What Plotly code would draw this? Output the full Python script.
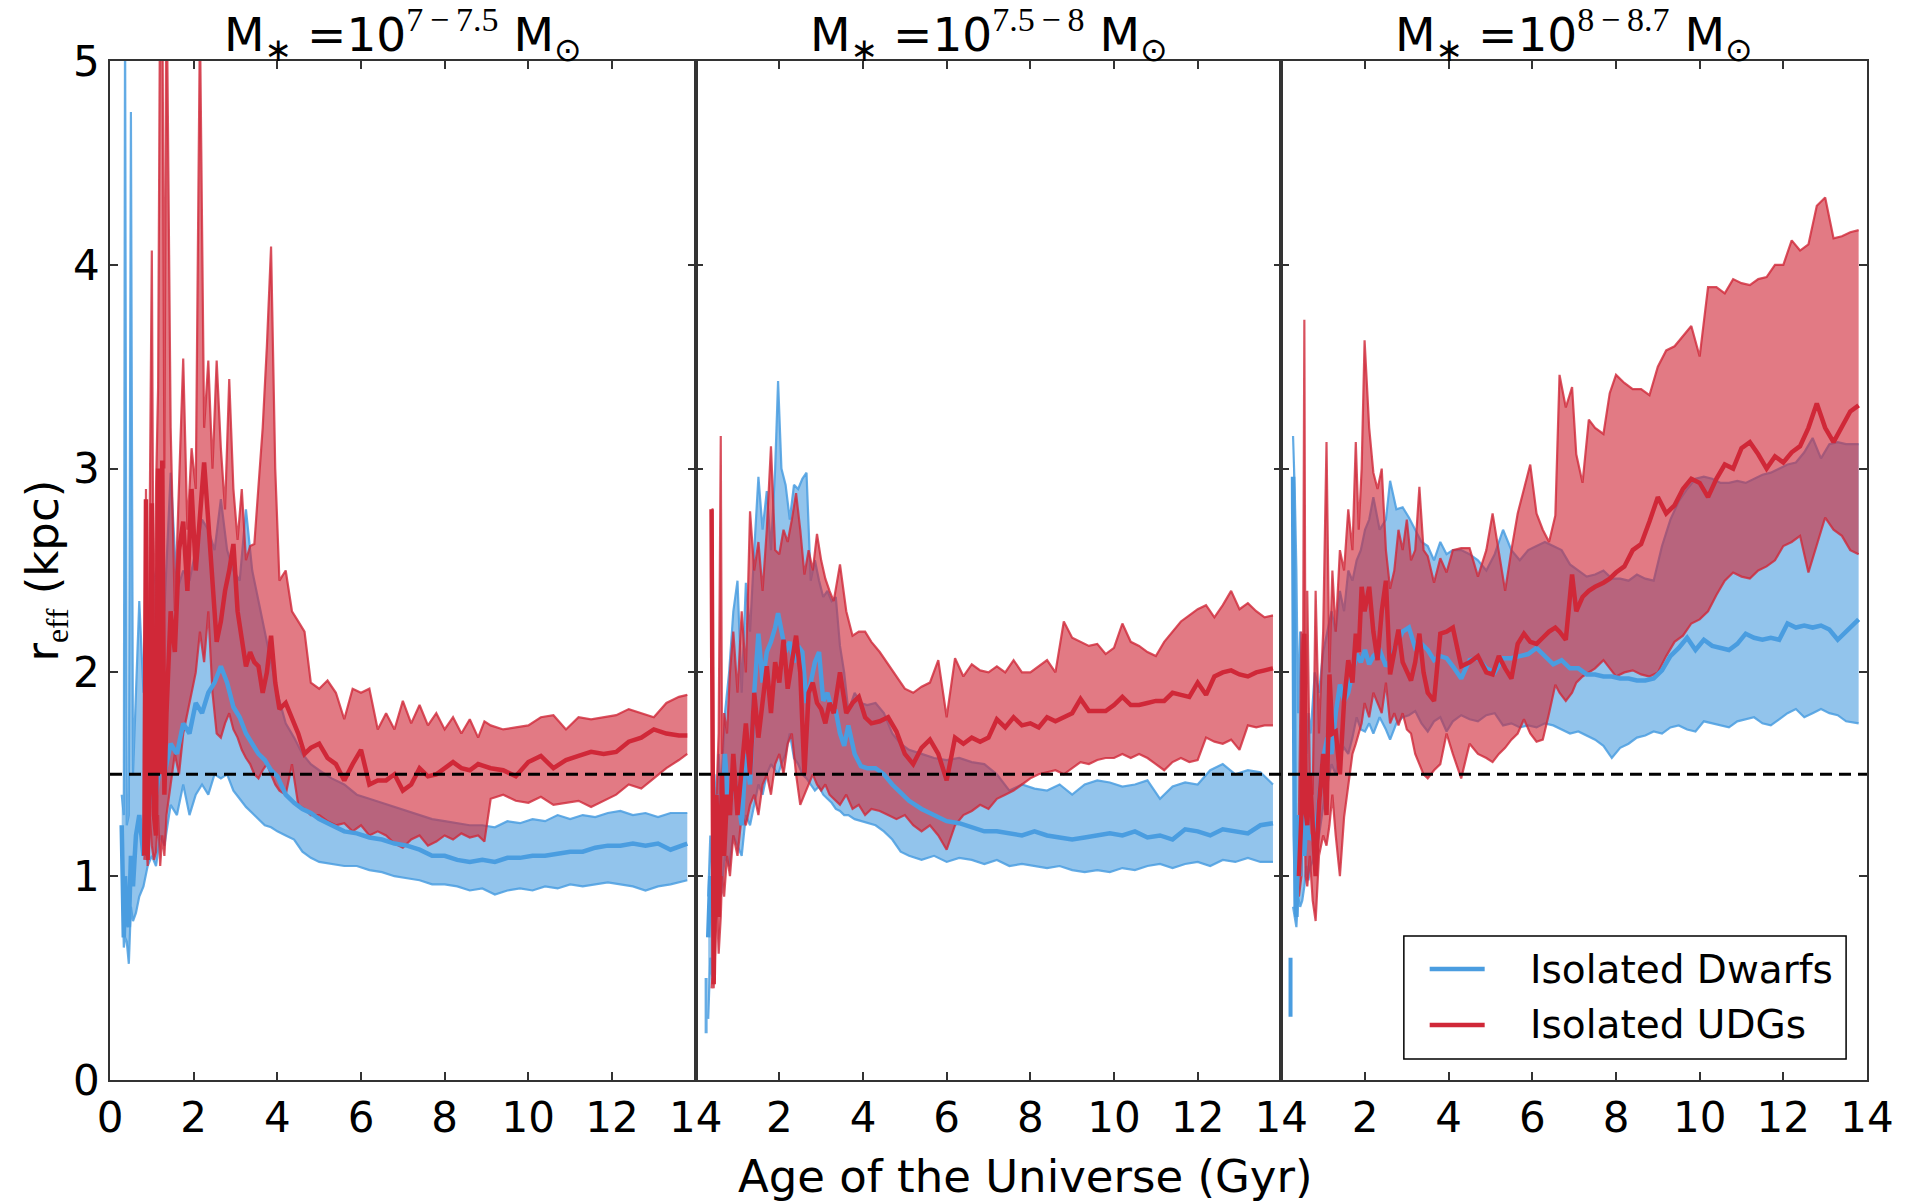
import plotly.graph_objects as go
from plotly.subplots import make_subplots

# ---------------- Panel 1: M* = 10^(7-7.5) ----------------
p1_blue_t = [0.28, 0.33, 0.36, 0.40, 0.45, 0.50, 0.55, 0.62, 0.70, 0.80,
             0.90, 1.00, 1.10, 1.20, 1.30, 1.45, 1.60, 1.75, 1.90, 2.05,
             2.20, 2.35, 2.50, 2.65, 2.80, 2.95, 3.10, 3.25, 3.40, 3.55,
             3.70, 3.85, 4.00, 4.20, 4.40, 4.60, 4.80, 5.00, 5.30, 5.60,
             5.90, 6.20, 6.50, 6.80, 7.10, 7.40, 7.70, 8.00, 8.30, 8.60,
             8.90, 9.20, 9.50, 9.80, 10.10, 10.40, 10.70, 11.00, 11.30, 11.60,
             11.90, 12.20, 12.50, 12.80, 13.10, 13.40, 13.80]
p1_blue_hi = [1.40, 1.30, 5.30, 1.25, 1.30, 4.75, 1.50, 1.90, 2.35, 1.90,
              2.20, 2.40, 2.50, 2.60, 2.30, 2.98, 2.40, 2.50, 2.45, 2.60,
              2.75, 2.70, 2.60, 2.85, 2.60, 2.50, 2.45, 2.80, 2.50, 2.35,
              2.20, 2.05, 1.90, 1.75, 1.68, 1.60, 1.55, 1.52, 1.48, 1.45,
              1.40, 1.38, 1.36, 1.34, 1.32, 1.30, 1.28, 1.27, 1.26, 1.25,
              1.25, 1.24, 1.27, 1.26, 1.28, 1.27, 1.30, 1.28, 1.30, 1.29,
              1.31, 1.32, 1.30, 1.31, 1.29, 1.31, 1.31]
p1_blue_med = [1.25, 0.70, 1.00, 0.80, 0.75, 1.10, 0.95, 1.20, 1.30, 1.10,
               1.30, 1.45, 1.40, 1.55, 1.50, 1.65, 1.60, 1.75, 1.70, 1.85,
               1.80, 1.90, 1.95, 2.03, 1.95, 1.83, 1.78, 1.70, 1.65, 1.60,
               1.57, 1.52, 1.49, 1.40, 1.36, 1.33, 1.31, 1.28, 1.25, 1.22,
               1.21, 1.19, 1.18, 1.16, 1.15, 1.13, 1.10, 1.10, 1.08, 1.07,
               1.08, 1.07, 1.09, 1.09, 1.10, 1.10, 1.11, 1.12, 1.12, 1.14,
               1.15, 1.15, 1.16, 1.15, 1.16, 1.13, 1.16]
p1_blue_lo = [1.15, 0.65, 0.70, 0.68, 0.57, 0.85, 0.78, 0.82, 0.90, 0.95,
              1.05, 1.10, 1.05, 1.20, 1.15, 1.35, 1.30, 1.45, 1.30, 1.40,
              1.45, 1.40, 1.50, 1.48, 1.50, 1.42, 1.38, 1.34, 1.31, 1.28,
              1.25, 1.24, 1.22, 1.20, 1.18, 1.12, 1.09, 1.07, 1.06, 1.05,
              1.05, 1.03, 1.02, 1.00, 0.99, 0.98, 0.96, 0.96, 0.95, 0.93,
              0.94, 0.91, 0.93, 0.94, 0.93, 0.95, 0.94, 0.96, 0.95, 0.96,
              0.97, 0.96, 0.95, 0.93, 0.95, 0.96, 0.98]

p1_red_t = [0.82, 0.86, 0.90, 0.95, 1.00, 1.05, 1.10, 1.15, 1.20, 1.25,
            1.30, 1.35, 1.45, 1.55, 1.65, 1.75, 1.85, 1.95, 2.05, 2.15,
            2.25, 2.35, 2.45, 2.55, 2.65, 2.75, 2.85, 2.95, 3.05, 3.15,
            3.25, 3.35, 3.45, 3.55, 3.65, 3.75, 3.85, 3.95, 4.05, 4.20,
            4.35, 4.50, 4.65, 4.80, 5.00, 5.20, 5.40, 5.60, 5.80, 6.00,
            6.20, 6.40, 6.60, 6.80, 7.00, 7.20, 7.40, 7.60, 7.80, 8.00,
            8.20, 8.40, 8.60, 8.80, 8.95, 9.10, 9.40, 9.70, 10.00, 10.30,
            10.60, 10.90, 11.20, 11.50, 11.80, 12.10, 12.40, 12.70, 13.00, 13.30,
            13.60, 13.80]
p1_red_hi = [1.20, 2.90, 1.50, 3.00, 4.07, 1.80, 2.90, 3.40, 5.50, 5.50,
             3.00, 5.50, 3.20, 2.30, 2.90, 3.54, 2.70, 3.10, 2.90, 5.20,
             3.20, 3.53, 3.00, 3.53, 3.10, 2.80, 3.44, 2.90, 2.65, 2.90,
             2.55, 2.62, 2.63, 2.90, 3.20, 3.60, 4.09, 3.00, 2.45, 2.50,
             2.30, 2.25, 2.20, 1.95, 1.92, 1.96, 1.90, 1.77, 1.92, 1.90,
             1.92, 1.72, 1.80, 1.72, 1.86, 1.75, 1.84, 1.74, 1.80, 1.72,
             1.78, 1.70, 1.77, 1.68, 1.76, 1.74, 1.72, 1.73, 1.74, 1.78,
             1.79, 1.72, 1.78, 1.77, 1.78, 1.79, 1.82, 1.80, 1.78, 1.85,
             1.88, 1.89]
p1_red_med = [1.10, 2.85, 1.08, 1.50, 2.83, 1.30, 1.20, 3.00, 1.50, 3.04,
              1.40, 1.80, 2.30, 2.10, 2.60, 2.74, 2.40, 2.90, 2.50, 2.75,
              3.03, 2.74, 2.40, 2.15, 2.25, 2.40, 2.50, 2.63, 2.30, 2.15,
              2.03, 2.10, 2.05, 2.03, 1.90, 2.00, 2.18, 1.95, 1.82, 1.85,
              1.78, 1.70, 1.60, 1.63, 1.65, 1.58, 1.55, 1.47, 1.55, 1.62,
              1.45, 1.47, 1.47, 1.50, 1.42, 1.45, 1.53, 1.49, 1.50, 1.53,
              1.56, 1.53, 1.52, 1.55, 1.54, 1.53, 1.52, 1.49, 1.56, 1.59,
              1.53, 1.57, 1.59, 1.61, 1.60, 1.61, 1.66, 1.68, 1.72, 1.70,
              1.69, 1.69]
p1_red_lo = [1.08, 1.20, 1.05, 1.30, 1.15, 1.08, 1.12, 1.30, 1.05, 1.20,
             1.10, 1.30, 1.45, 1.60, 1.50, 1.70, 1.80, 1.90, 2.00, 2.20,
             2.05, 2.30, 1.90, 1.70, 1.68, 1.75, 1.80, 1.72, 1.68, 1.62,
             1.58, 1.55, 1.50, 1.48, 1.52, 1.55, 1.50, 1.45, 1.42, 1.40,
             1.55, 1.35, 1.33, 1.30, 1.30, 1.27, 1.25, 1.26, 1.22, 1.25,
             1.20, 1.22, 1.20, 1.16, 1.14, 1.18, 1.20, 1.15, 1.17, 1.20,
             1.18, 1.21, 1.19, 1.20, 1.17, 1.38, 1.40, 1.37, 1.36, 1.39,
             1.35, 1.36, 1.37, 1.34, 1.37, 1.40, 1.45, 1.43, 1.48, 1.53,
             1.57, 1.60]

# ---------------- Panel 2: M* = 10^(7.5-8) ----------------
p2_blue_t = [0.30, 0.35, 0.40, 0.45, 0.50, 0.55, 0.60, 0.70, 0.80, 0.90,
             1.00, 1.10, 1.20, 1.30, 1.40, 1.50, 1.60, 1.70, 1.80, 1.90,
             1.97, 2.05, 2.15, 2.25, 2.35, 2.45, 2.55, 2.65, 2.75, 2.85,
             2.95, 3.05, 3.15, 3.25, 3.35, 3.45, 3.55, 3.65, 3.80, 3.95,
             4.10, 4.30, 4.50, 4.70, 4.90, 5.10, 5.40, 5.70, 6.00, 6.30,
             6.60, 6.90, 7.20, 7.50, 7.80, 8.10, 8.40, 8.70, 9.00, 9.30,
             9.60, 9.90, 10.20, 10.50, 10.80, 11.10, 11.40, 11.70, 12.00, 12.30,
             12.60, 12.90, 13.20, 13.50, 13.80]
p2_blue_hi = [0.90, 1.20, 1.00, 1.50, 1.30, 1.60, 1.40, 1.80, 2.00, 2.30,
              2.45, 1.90, 2.44, 2.20, 2.60, 2.96, 2.70, 2.89, 2.60, 3.00,
              3.43, 3.00, 2.92, 2.75, 2.92, 2.90, 2.95, 2.98, 2.45, 2.55,
              2.45, 2.37, 2.40, 2.35, 2.37, 2.13, 2.00, 1.81, 1.90, 1.85,
              1.84, 1.85, 1.80, 1.70, 1.65, 1.62, 1.60, 1.58, 1.57, 1.58,
              1.56, 1.55, 1.50, 1.42, 1.45, 1.43, 1.42, 1.45, 1.40, 1.45,
              1.47, 1.46, 1.44, 1.45, 1.47, 1.38, 1.44, 1.46, 1.45, 1.52,
              1.55, 1.50, 1.52, 1.51, 1.45]
p2_blue_med = [0.70, 1.00, 0.80, 1.20, 1.05, 1.40, 1.10, 1.60, 1.30, 1.50,
               1.40, 1.25, 1.60, 1.45, 1.90, 2.19, 1.95, 2.10, 2.15, 2.22,
               2.29, 2.20, 2.10, 2.15, 2.05, 2.13, 2.10, 1.85, 1.95, 2.05,
               2.10, 1.86, 1.90, 1.82, 1.81, 1.70, 1.64, 1.74, 1.60, 1.54,
               1.53, 1.53, 1.50, 1.45, 1.41, 1.37, 1.33, 1.30, 1.27, 1.26,
               1.24, 1.22, 1.22, 1.21, 1.20, 1.22, 1.20, 1.19, 1.18, 1.19,
               1.20, 1.21, 1.20, 1.22, 1.19, 1.20, 1.18, 1.23, 1.22, 1.20,
               1.23, 1.22, 1.21, 1.25, 1.26]
p2_blue_lo = [0.30, 0.60, 0.50, 0.75, 0.80, 1.00, 0.90, 1.10, 1.05, 1.20,
              1.15, 1.10, 1.30, 1.25, 1.35, 1.45, 1.40, 1.50, 1.55, 1.52,
              1.50, 1.55, 1.60, 1.70, 1.58, 1.55, 1.50, 1.48, 1.45, 1.42,
              1.44, 1.40, 1.38, 1.36, 1.33, 1.32, 1.30, 1.30, 1.28, 1.27,
              1.26, 1.25, 1.22, 1.18, 1.12, 1.10, 1.08, 1.10, 1.07, 1.09,
              1.08, 1.06, 1.08, 1.05, 1.06, 1.05, 1.04, 1.05, 1.03, 1.02,
              1.03, 1.02, 1.04, 1.03, 1.05, 1.06, 1.04, 1.06, 1.07, 1.05,
              1.08, 1.07, 1.09, 1.07, 1.07]

p2_red_t = [0.38, 0.40, 0.43, 0.46, 0.50, 0.55, 0.60, 0.63, 0.68, 0.75,
            0.82, 0.90, 1.00, 1.10, 1.20, 1.30, 1.40, 1.50, 1.60, 1.70,
            1.80, 1.90, 2.00, 2.10, 2.20, 2.30, 2.40, 2.50, 2.60, 2.70,
            2.80, 2.90, 3.00, 3.10, 3.20, 3.30, 3.45, 3.60, 3.75, 3.90,
            4.05, 4.20, 4.40, 4.60, 4.80, 5.00, 5.20, 5.40, 5.60, 5.80,
            6.00, 6.20, 6.40, 6.60, 6.80, 7.00, 7.20, 7.40, 7.60, 7.80,
            8.00, 8.20, 8.40, 8.60, 8.80, 9.00, 9.20, 9.40, 9.60, 9.80,
            10.00, 10.20, 10.40, 10.60, 10.80, 11.00, 11.20, 11.40, 11.60, 11.80,
            12.00, 12.20, 12.40, 12.60, 12.80, 13.00, 13.20, 13.40, 13.60, 13.80]
p2_red_hi = [2.80, 2.80, 1.00, 1.20, 1.40, 1.70, 3.16, 1.60, 1.80, 1.70,
             2.00, 2.20, 1.90, 2.30, 2.00, 2.79, 2.50, 2.64, 2.40, 2.70,
             3.11, 2.60, 2.58, 2.70, 2.64, 2.75, 2.88, 2.70, 2.48, 2.60,
             2.50, 2.68, 2.55, 2.46, 2.40, 2.35, 2.53, 2.30, 2.18, 2.20,
             2.20, 2.15, 2.10, 2.04, 1.98, 1.92, 1.90, 1.93, 1.95, 2.06,
             1.78, 2.07, 1.98, 2.04, 2.01, 2.00, 2.03, 2.00, 2.06, 2.00,
             2.00, 2.03, 2.06, 2.00, 2.25, 2.17, 2.15, 2.13, 2.14, 2.09,
             2.12, 2.24, 2.15, 2.13, 2.10, 2.08, 2.15, 2.20, 2.25, 2.28,
             2.31, 2.33, 2.27, 2.33, 2.40, 2.31, 2.34, 2.30, 2.27, 2.28]
p2_red_med = [2.80, 1.50, 0.47, 0.90, 1.40, 0.80, 1.20, 1.50, 1.10, 1.40,
              1.30, 1.60, 1.30, 1.50, 1.75, 1.50, 1.90, 1.68, 1.85, 2.03,
              1.80, 2.05, 1.95, 2.16, 1.92, 2.05, 2.18, 2.00, 1.50, 1.90,
              1.95, 1.85, 1.82, 1.75, 1.85, 1.80, 2.00, 1.80, 1.85, 1.88,
              1.78, 1.75, 1.76, 1.78, 1.71, 1.60, 1.55, 1.63, 1.67, 1.60,
              1.47, 1.68, 1.65, 1.68, 1.66, 1.68, 1.77, 1.73, 1.78, 1.74,
              1.75, 1.73, 1.78, 1.76, 1.78, 1.80, 1.87, 1.81, 1.81, 1.81,
              1.84, 1.88, 1.84, 1.84, 1.85, 1.86, 1.86, 1.90, 1.89, 1.88,
              1.95, 1.89, 1.98, 2.00, 2.01, 1.99, 1.98, 2.00, 2.01, 2.02]
p2_red_lo = [0.45, 0.50, 0.45, 0.60, 0.90, 0.62, 0.80, 1.00, 0.90, 1.10,
             1.00, 1.20, 1.10, 1.30, 1.25, 1.35, 1.40, 1.30, 1.45, 1.50,
             1.40, 1.55, 1.60, 1.50, 1.65, 1.70, 1.50, 1.35, 1.40, 1.45,
             1.50, 1.45, 1.42, 1.45, 1.40, 1.38, 1.35, 1.40, 1.33, 1.35,
             1.30, 1.33, 1.32, 1.30, 1.28, 1.30, 1.25, 1.22, 1.25, 1.20,
             1.13, 1.25, 1.30, 1.32, 1.35, 1.33, 1.38, 1.40, 1.42, 1.45,
             1.48, 1.50, 1.51, 1.52, 1.50, 1.53, 1.56, 1.55, 1.57, 1.58,
             1.58, 1.60, 1.58, 1.60, 1.58, 1.55, 1.52, 1.56, 1.58, 1.56,
             1.57, 1.68, 1.66, 1.65, 1.67, 1.62, 1.74, 1.73, 1.74, 1.74]

# ---------------- Panel 3: M* = 10^(8-8.7) ----------------
p3_blue_t = [0.28, 0.32, 0.36, 0.40, 0.45, 0.50, 0.55, 0.60, 0.65, 0.70,
             0.80, 0.90, 1.00, 1.10, 1.20, 1.30, 1.40, 1.50, 1.60, 1.70,
             1.80, 1.90, 2.00, 2.10, 2.20, 2.35, 2.50, 2.60, 2.75, 2.90,
             3.05, 3.20, 3.35, 3.50, 3.65, 3.80, 3.95, 4.10, 4.30, 4.50,
             4.70, 4.90, 5.10, 5.30, 5.50, 5.70, 5.90, 6.10, 6.30, 6.50,
             6.70, 6.90, 7.10, 7.30, 7.50, 7.70, 7.90, 8.10, 8.30, 8.50,
             8.70, 8.90, 9.10, 9.30, 9.50, 9.70, 9.90, 10.10, 10.30, 10.50,
             10.70, 10.90, 11.10, 11.30, 11.50, 11.70, 11.90, 12.10, 12.30, 12.50,
             12.70, 12.90, 13.10, 13.30, 13.50, 13.80]
p3_blue_hi = [3.16, 2.90, 2.50, 1.80, 2.20, 1.70, 1.90, 1.60, 1.80, 1.70,
              2.00, 1.90, 2.10, 2.20, 2.30, 2.20, 2.40, 2.30, 2.50, 2.45,
              2.55, 2.60, 2.70, 2.75, 2.86, 2.70, 2.75, 2.94, 2.80, 2.81,
              2.76, 2.70, 2.64, 2.62, 2.55, 2.64, 2.58, 2.60, 2.60, 2.58,
              2.55, 2.50, 2.58, 2.70, 2.60, 2.55, 2.60, 2.62, 2.64, 2.62,
              2.60, 2.53, 2.50, 2.47, 2.48, 2.50, 2.46, 2.46, 2.45, 2.48,
              2.46, 2.45, 2.62, 2.75, 2.84, 2.90, 2.95, 2.96, 2.95, 2.93,
              2.93, 2.94, 2.93, 2.95, 2.97, 2.98, 3.00, 3.02, 3.03, 3.08,
              3.15, 3.05, 3.12, 3.13, 3.12, 3.12]
p3_blue_med = [2.96, 1.20, 0.80, 1.30, 1.00, 1.45, 1.10, 1.30, 1.18, 1.20,
               1.16, 1.40, 1.58, 1.68, 1.60, 1.80, 1.94, 1.86, 1.90, 2.00,
               2.09, 2.05, 2.11, 2.04, 2.08, 2.11, 2.03, 2.06, 2.14, 2.20,
               2.22, 2.12, 2.14, 2.11, 2.06, 2.08, 2.07, 2.03, 1.97, 2.06,
               2.07, 2.02, 2.00, 2.07, 2.07, 2.08, 2.09, 2.12, 2.08, 2.04,
               2.06, 2.02, 2.02, 1.99, 1.99, 1.98, 1.98, 1.97, 1.97, 1.96,
               1.96, 1.97, 2.01, 2.08, 2.12, 2.17, 2.11, 2.16, 2.13, 2.12,
               2.11, 2.14, 2.19, 2.17, 2.16, 2.17, 2.16, 2.24, 2.22, 2.23,
               2.22, 2.23, 2.21, 2.16, 2.20, 2.26]
p3_blue_lo = [0.85, 0.80, 0.75, 0.90, 0.85, 0.88, 0.95, 1.05, 0.98, 1.05,
              1.10, 1.20, 1.34, 1.45, 1.55, 1.50, 1.60, 1.63, 1.60, 1.68,
              1.78, 1.72, 1.71, 1.75, 1.70, 1.78, 1.72, 1.67, 1.75, 1.78,
              1.79, 1.81, 1.75, 1.71, 1.76, 1.78, 1.71, 1.76, 1.79, 1.77,
              1.76, 1.79, 1.80, 1.74, 1.75, 1.73, 1.74, 1.73, 1.75, 1.74,
              1.72, 1.70, 1.71, 1.69, 1.67, 1.64, 1.58, 1.63, 1.65, 1.68,
              1.69, 1.71, 1.70, 1.73, 1.74, 1.72, 1.71, 1.76, 1.75, 1.74,
              1.73, 1.76, 1.77, 1.78, 1.75, 1.74, 1.77, 1.80, 1.82, 1.78,
              1.80, 1.82, 1.80, 1.79, 1.76, 1.75]

p3_red_t = [0.42, 0.48, 0.52, 0.55, 0.58, 0.62, 0.68, 0.75, 0.82, 0.90,
            1.00, 1.08, 1.15, 1.22, 1.30, 1.40, 1.50, 1.60, 1.70, 1.78,
            1.85, 1.92, 1.99, 2.10, 2.20, 2.30, 2.40, 2.50, 2.60, 2.70,
            2.80, 2.90, 3.00, 3.10, 3.20, 3.30, 3.40, 3.50, 3.65, 3.80,
            3.95, 4.10, 4.30, 4.50, 4.70, 4.90, 5.05, 5.20, 5.35, 5.50,
            5.65, 5.80, 5.95, 6.10, 6.25, 6.40, 6.55, 6.65, 6.80, 6.95,
            7.05, 7.20, 7.35, 7.50, 7.70, 7.85, 8.00, 8.20, 8.40, 8.60,
            8.80, 9.00, 9.20, 9.40, 9.60, 9.80, 10.00, 10.20, 10.40, 10.60,
            10.80, 11.00, 11.20, 11.40, 11.60, 11.80, 12.00, 12.20, 12.40, 12.60,
            12.80, 13.00, 13.20, 13.40, 13.60, 13.80]
p3_red_hi = [1.30, 2.20, 2.05, 3.73, 1.60, 2.40, 1.50, 1.40, 2.40, 1.70,
             2.20, 3.13, 2.00, 2.50, 2.20, 2.60, 2.50, 2.80, 2.60, 3.13,
             2.70, 3.00, 3.63, 3.20, 2.98, 2.90, 3.00, 2.60, 2.41, 2.50,
             2.70, 2.60, 2.75, 2.55, 2.60, 2.91, 2.60, 2.57, 2.44, 2.56,
             2.49, 2.60, 2.61, 2.61, 2.47, 2.60, 2.78, 2.60, 2.40, 2.60,
             2.78, 2.90, 3.02, 2.78, 2.70, 2.64, 2.77, 3.46, 3.30, 3.40,
             3.07, 2.93, 3.24, 3.20, 3.17, 3.37, 3.46, 3.42, 3.39, 3.39,
             3.36, 3.50, 3.58, 3.60, 3.65, 3.70, 3.55, 3.89, 3.89, 3.86,
             3.93, 3.91, 3.90, 3.93, 3.94, 4.00, 4.00, 4.12, 4.07, 4.10,
             4.29, 4.33, 4.13, 4.14, 4.16, 4.17]
p3_red_med = [1.00, 1.30, 2.00, 2.19, 1.32, 1.25, 1.50, 1.26, 1.00, 1.35,
              1.60, 1.30, 1.99, 1.70, 1.71, 1.50, 1.86, 2.06, 1.95, 2.19,
              2.10, 2.42, 2.30, 2.42, 2.20, 2.06, 2.30, 2.45, 1.99, 2.10,
              2.21, 2.05, 2.00, 1.96, 2.05, 2.19, 2.00, 1.90, 1.86, 2.19,
              2.20, 2.22, 2.03, 2.05, 2.08, 2.00, 1.99, 2.08, 2.02, 1.97,
              2.14, 2.19, 2.15, 2.14, 2.17, 2.20, 2.22, 2.20, 2.16, 2.48,
              2.30, 2.37, 2.40, 2.42, 2.44, 2.46, 2.49, 2.52, 2.60, 2.63,
              2.74, 2.86, 2.78, 2.82, 2.90, 2.95, 2.93, 2.86, 2.95, 3.02,
              3.00, 3.10, 3.13, 3.07, 3.00, 3.06, 3.03, 3.08, 3.11, 3.20,
              3.32, 3.20, 3.13, 3.20, 3.28, 3.31]
p3_red_lo = [0.90, 1.00, 1.30, 1.50, 1.00, 0.95, 1.10, 0.88, 0.78, 1.10,
             1.20, 1.15, 1.25, 1.40, 1.20, 1.00, 1.29, 1.45, 1.60, 1.65,
             1.70, 1.75, 1.85, 1.78, 1.90, 1.85, 1.80, 1.95, 1.75, 1.80,
             1.74, 1.80, 1.72, 1.70, 1.60, 1.55, 1.50, 1.48, 1.52, 1.55,
             1.70, 1.60, 1.48, 1.65, 1.60, 1.58, 1.56, 1.60, 1.63, 1.67,
             1.70, 1.77, 1.70, 1.66, 1.67, 1.80, 1.94, 1.90, 1.86, 1.90,
             1.95, 1.98, 2.00, 2.02, 2.06, 2.02, 1.98, 2.00, 2.01, 1.99,
             1.98, 2.00, 2.08, 2.15, 2.18, 2.24, 2.26, 2.30, 2.38, 2.45,
             2.49, 2.47, 2.46, 2.50, 2.52, 2.55, 2.62, 2.64, 2.67, 2.49,
             2.62, 2.76, 2.70, 2.67, 2.60, 2.58]

# isolated early snapshots (single-time vertical segments)
p2_blue_seg_t = [0.25, 0.25]
p2_blue_seg_r = [0.23, 0.50]
p3_blue_seg_t = [0.22, 0.22]
p3_blue_seg_r = [0.31, 0.60]

panel_titles = ["7\u2009\u2212\u20097.5", "7.5\u2009\u2212\u20098", "8\u2009\u2212\u20098.7"]
x_tick_vals = [0, 2, 4, 6, 8, 10, 12, 14]
y_tick_vals = [0, 1, 2, 3, 4, 5]
reference_radius = 1.5

series_names = ["Isolated Dwarfs", "Isolated UDGs"]

BLUE = "rgb(74,157,224)"
BLUE_FILL = "rgba(74,157,224,0.6)"
BLUE_EDGE = "rgba(74,157,224,0.85)"
RED = "rgb(208,40,56)"
RED_FILL = "rgba(208,40,56,0.62)"
RED_EDGE = "rgba(208,40,56,0.8)"
FONT = "DejaVu Sans"
SERIF = "Liberation Serif"

panels = [
    (p1_blue_t, p1_blue_lo, p1_blue_med, p1_blue_hi, p1_red_t, p1_red_lo, p1_red_med, p1_red_hi),
    (p2_blue_t, p2_blue_lo, p2_blue_med, p2_blue_hi, p2_red_t, p2_red_lo, p2_red_med, p2_red_hi),
    (p3_blue_t, p3_blue_lo, p3_blue_med, p3_blue_hi, p3_red_t, p3_red_lo, p3_red_med, p3_red_hi),
]

fig = make_subplots(rows=1, cols=3, shared_yaxes=True, horizontal_spacing=0)

for i, (bt, blo, bmed, bhi, rt, rlo, rmed, rhi) in enumerate(panels, start=1):
    fig.add_trace(go.Scatter(x=bt, y=blo, mode="lines", line=dict(color=BLUE_EDGE, width=2.2),
                             showlegend=False, hoverinfo="skip"), row=1, col=i)
    fig.add_trace(go.Scatter(x=bt, y=bhi, mode="lines", fill="tonexty", fillcolor=BLUE_FILL,
                             line=dict(color=BLUE_EDGE, width=2.2), showlegend=False,
                             hoverinfo="skip"), row=1, col=i)
    fig.add_trace(go.Scatter(x=rt, y=rlo, mode="lines", line=dict(color=RED_EDGE, width=2.2),
                             showlegend=False, hoverinfo="skip"), row=1, col=i)
    fig.add_trace(go.Scatter(x=rt, y=rhi, mode="lines", fill="tonexty", fillcolor=RED_FILL,
                             line=dict(color=RED_EDGE, width=2.2), showlegend=False,
                             hoverinfo="skip"), row=1, col=i)
    fig.add_trace(go.Scatter(x=bt, y=bmed, mode="lines", line=dict(color=BLUE, width=4.5),
                             name=series_names[0], showlegend=False), row=1, col=i)
    fig.add_trace(go.Scatter(x=rt, y=rmed, mode="lines", line=dict(color=RED, width=4.5),
                             name=series_names[1], showlegend=False), row=1, col=i)

fig.add_trace(go.Scatter(x=p2_blue_seg_t, y=p2_blue_seg_r, mode="lines",
                         line=dict(color=BLUE_EDGE, width=3), showlegend=False), row=1, col=2)
fig.add_trace(go.Scatter(x=p3_blue_seg_t, y=p3_blue_seg_r, mode="lines",
                         line=dict(color=BLUE, width=4), showlegend=False), row=1, col=3)

axis_line = "#333333"
for i in range(1, 4):
    ticktext = [str(v) for v in x_tick_vals]
    if i > 1:
        ticktext[0] = ""
    fig.update_xaxes(row=1, col=i, range=[0, 14], tickvals=x_tick_vals, ticktext=ticktext,
                     ticks="inside", ticklen=8, tickwidth=1.5, tickcolor=axis_line,
                     showline=True, linecolor=axis_line, linewidth=1.6, mirror="allticks",
                     showgrid=False, zeroline=False, tickangle=0,
                     tickfont=dict(size=42, color="black", family=FONT))
    fig.update_yaxes(row=1, col=i, range=[0, 5], tickvals=y_tick_vals,
                     ticks="inside", ticklen=8, tickwidth=1.5, tickcolor=axis_line,
                     showline=True, linecolor=axis_line, linewidth=1.6, mirror="allticks",
                     showgrid=False, zeroline=False, showticklabels=(i == 1),
                     tickfont=dict(size=42, color="black", family=FONT))

fig.add_shape(type="line", xref="paper", x0=0, x1=1, yref="y", y0=reference_radius,
              y1=reference_radius, line=dict(color="black", width=3, dash="12px,7px"))

# legend box (drawn by hand to match the reference's padding)
fig.add_shape(type="rect", xref="paper", yref="paper", x0=0.7364, x1=0.9881, y0=0.0206,
              y1=0.1413, fillcolor="white", line=dict(color="black", width=1.5))
legend_rows = [(series_names[0], BLUE, 0.1089), (series_names[1], RED, 0.0540)]
for name, col, yp in legend_rows:
    fig.add_shape(type="line", xref="paper", yref="paper", x0=0.7511, x1=0.7824, y0=yp, y1=yp,
                  line=dict(color=col, width=4.5))
    fig.add_annotation(text=name, x=0.8068, y=yp, xref="paper", yref="paper",
                       xanchor="left", yanchor="middle", showarrow=False,
                       font=dict(size=39, color="black", family=FONT))

for i, rng in enumerate(panel_titles):
    txt = ("M<sub>\u2217</sub> =10<sup><span style='font-family:%s;font-size:34px'>%s</span></sup>"
           " M<sub>\u2299</sub>" % (SERIF, rng))
    fig.add_annotation(text=txt, x=(i + 0.5) / 3, y=1, xref="paper", yref="paper",
                       xanchor="center", yanchor="bottom", showarrow=False, yshift=-10,
                       font=dict(size=47, color="black", family=FONT))

fig.add_annotation(text="r<sub><span style='font-family:%s'>eff</span></sub> (kpc)" % SERIF,
                   x=-0.037, y=0.5, xref="paper", yref="paper", textangle=-90,
                   xanchor="center", yanchor="middle", showarrow=False,
                   font=dict(size=45, color="black", family=FONT))
fig.add_annotation(text="Age of the Universe (Gyr)", x=0.521, y=-0.095, xref="paper",
                   yref="paper", xanchor="center", yanchor="middle", showarrow=False,
                   font=dict(size=45, color="black", family=FONT))

fig.update_layout(
    width=1906, height=1204,
    margin=dict(l=110, r=36, t=61, b=124),
    paper_bgcolor="white", plot_bgcolor="white",
    font=dict(family=FONT, color="black"),
    hovermode=False,
    showlegend=False,
)

fig.write_html("out.html")
